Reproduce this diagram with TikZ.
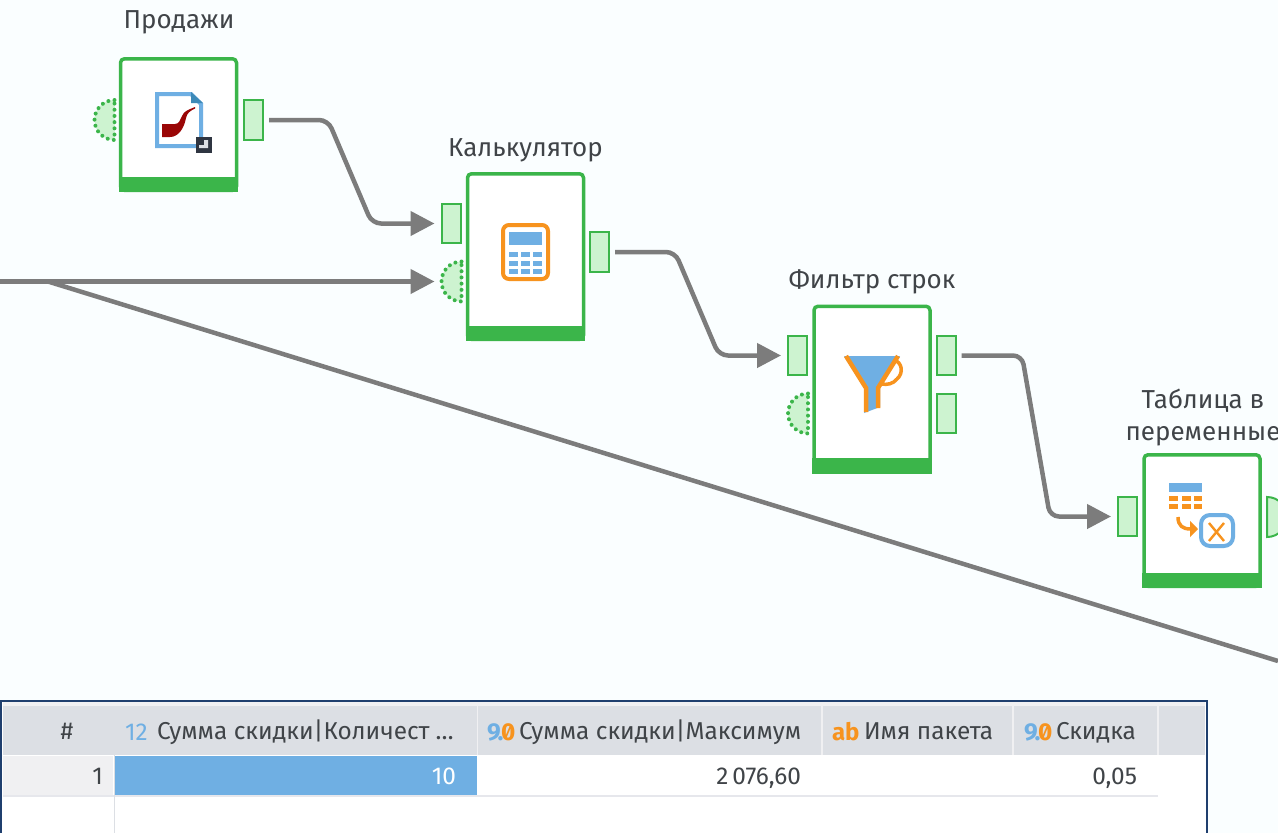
\documentclass[tikz,border=0pt]{standalone}
\usepackage{fontspec}
\setmainfont{Fira Sans}
\newfontfamily\zerofont[RawFeature=+zero]{Fira Sans}
\usetikzlibrary{arrows.meta,calc}
\definecolor{bgc}{HTML}{FAFEFF}
\definecolor{grn}{HTML}{3BB54A}
\definecolor{portf}{HTML}{CDF3D0}
\definecolor{wire}{HTML}{7C7C7C}
\definecolor{blu}{HTML}{6FAFE3}
\definecolor{dblu}{HTML}{3D8AB8}
\definecolor{org}{HTML}{F7931E}
\definecolor{pipe}{HTML}{9A0606}
\definecolor{darks}{HTML}{2F3541}
\definecolor{txt}{HTML}{404448}
\definecolor{frame}{HTML}{1F3F6E}
\definecolor{hdr}{HTML}{DCDFE4}
\definecolor{rowg}{HTML}{F0F0F2}
\definecolor{sepc}{HTML}{E6E7EC}
\newcommand\Bar[1]{\fill[grn] ([shift={(-1.75pt,-1.75pt)}]#1.south west) rectangle ([shift={(1.75pt,13.5pt)}]#1.south east);}
\newcommand\NineZero{{\zerofont\bfseries\color{blu}9\kern-3pt.\kern-2.5pt\color{org}0}}
\tikzset{
  x=1pt,y=-1pt,
  stepbox/.style={draw=grn,fill=white,line width=3.5pt,rounded corners=4pt,inner sep=0pt,outer sep=0pt,minimum width=116pt},
  portbox/.style={draw=grn,fill=portf,line width=2pt,inner sep=0pt,outer sep=0pt,minimum width=19pt,minimum height=39.5pt},
  halfport/.style={fill=portf},
  halfdots/.style={draw=grn,line width=4pt,line cap=round,dash pattern=on 0pt off 6.2pt},
  conn/.style={draw=wire,line width=4.5pt,rounded corners=9pt},
  connarrow/.style={conn,-{Triangle[length=24pt,width=24pt]}},
  steplabel/.style={font=\fontsize{26}{30}\selectfont,text=txt,inner sep=0pt,outer sep=0pt,anchor=base},
  tl/.style={font=\fontsize{24.4}{28}\selectfont,text=txt,inner sep=0pt,outer sep=0pt,anchor=base west},
  tr/.style={font=\fontsize{24.4}{28}\selectfont,text=txt,inner sep=0pt,outer sep=0pt,anchor=base east},
}
\newcommand\HalfPort[3]{% name, flat-side x, center y
  \coordinate (#1) at (#2-21,#3);
  \fill[halfport] (#2,#3-20) arc[start angle=90,end angle=270,radius=20pt] -- cycle;
  \draw[halfdots] (#2,#3-20) arc[start angle=90,end angle=270,radius=20pt] -- cycle;
}
\begin{document}
\begin{tikzpicture}
\useasboundingbox (0,0) rectangle (1278,833);
\clip (0,0) rectangle (1278,833);
\fill[bgc] (0,0) rectangle (1278,833);

% step boxes
\node[stepbox,minimum height=131.5pt] (s1) at (178.5,124.5) {};
\node[stepbox,minimum height=165.5pt] (s2) at (525.5,256.5) {};
\node[stepbox,minimum height=165.5pt] (s3) at (872,389) {};
\node[stepbox,minimum height=131.5pt] (s4) at (1202,520.5) {};
\Bar{s1}\Bar{s2}\Bar{s3}\Bar{s4}

% labels
\node[steplabel] (l1) at (179,28) {Продажи};
\node[steplabel] (l2) at (525.5,156) {Калькулятор};
\node[steplabel] (l3) at (872,288) {Фильтр строк};
\node[steplabel] (l4a) at (1203,408) {Таблица в};
\node[steplabel] (l4b) at (1203,440) {переменные};

% ports
\node[portbox] (o1) at (253.5,120) {};
\node[portbox] (i2) at (451,223.5) {};
\node[portbox] (o2) at (599.5,252) {};
\node[portbox] (i3) at (797.5,355.5) {};
\node[portbox] (o3) at (946,355.5) {};
\node[portbox] (o3b) at (946,413.5) {};
\node[portbox] (i4) at (1127.5,516.5) {};
\HalfPort{h1}{114.5}{120}
\HalfPort{h2}{461.5}{281.5}
\HalfPort{h3}{808}{413.5}
\fill[portf,draw=grn,line width=2pt] (1267,497) arc[start angle=90,end angle=-90,radius=20pt] -- cycle;
\coordinate (o4) at (1267,517);

% connectors
\coordinate (w0) at (0,281.5);
\coordinate (wb) at (48,281.5);
\coordinate (wend) at (1278,661);
\draw[connarrow] ([xshift=6pt]o1.east) -- (328,120) -- (372,223.5) -- ([xshift=-7pt]i2.west);
\draw[connarrow] ([xshift=6pt]o2.east) -- (675,252) -- (719,355.5) -- ([xshift=-7pt]i3.west);
\draw[connarrow] ([xshift=6pt]o3.east) -- (1022,355.5) -- (1050,516.5) -- ([xshift=-7pt]i4.west);
\draw[connarrow] (w0) -- ([xshift=-6pt]h2);
\draw[conn] (wb) -- (wend);

% icon 1: import file
\draw[blu,line width=4pt] (157,94) -- (191,94) -- (201,104) -- (201,146) -- (157,146) -- cycle;
\fill[dblu] (191,92) -- (203,103) -- (191,103) -- cycle;
\fill[pipe] (162,124) -- (175,124) .. controls (179,124) and (180,120) .. (182,116) .. controls (184,111) and (188,110) .. (195,107) -- (195,108.5) .. controls (190,111) and (187,113) .. (186,118) .. controls (184,129) and (178,137) .. (170,137) -- (162,137) -- cycle;
\fill[darks] (196,137) rectangle (212,153);
\fill[hdr] (199,148) -- (199,145) -- (204,145) -- (204,140) -- (208,140) -- (208,148) -- cycle;

% icon 2: calculator
\draw[org,line width=4pt,rounded corners=6pt,fill=white] (503,225) rectangle (548,279);
\fill[blu] (509,232) rectangle (542,244.5);
\foreach \ky in {252,261,269}{
  \foreach \kx/\kw in {509/8.5,521/9,533/9}{
    \fill[blu] (\kx,\ky) rectangle ++(\kw,4.5);
  }
}

% icon 3: filter
\fill[blu] (844,356) -- (900,356) -- (880,388) -- (880,407) -- (864,413) -- (864,388) -- cycle;
\draw[org,line width=4.5pt] (846,356) -- (866,388) -- (866,412);
\draw[org,line width=4.5pt] (898,356) -- (878,388) -- (878,408);
\draw[org,line width=3.5pt] (894,360) .. controls (902,362) and (904,373) .. (897,379) .. controls (893,384) and (887,385) .. (882,384);

% icon 4: table to variables
\fill[blu] (1169,483) rectangle (1202,492);
\foreach \dy in {496,504}{
  \foreach \dx/\dw in {1169/9,1182/8.5,1194/8}{
    \fill[org] (\dx,\dy) rectangle ++(\dw,4.5);
  }
}
\draw[org,line width=3.5pt,-{Triangle[length=8pt,width=16pt]}] (1178,517) .. controls (1178,526) and (1183,529) .. (1198,529);
\draw[blu,line width=4pt,rounded corners=9pt,fill=white] (1201,515) rectangle (1233,546);
\draw[org,line width=2.4pt] (1209,523) -- (1224,541) (1224,523) -- (1209,541);

% table
\fill[white] (1,700) rectangle (1207,833);
\fill[rowg] (3,702) rectangle (1205,706);
\fill[hdr] (3,706) rectangle (1205,755);
\fill[rowg] (3,756) rectangle (113,795);
\fill[blu] (115,756) rectangle (477,795);
\draw[sepc,line width=1.5pt] (3,796) -- (1158,796);
\draw[hdr,line width=1.5pt] (114.5,706) -- (114.5,833);
\draw[rowg,line width=1.5pt] (477.5,706) -- (477.5,755) (822,706) -- (822,755) (1013,706) -- (1013,755) (1158,706) -- (1158,755);
\draw[frame,line width=2pt] (1,833) -- (1,700.5) -- (1206.5,700.5) -- (1206.5,833);

\node[tl,anchor=base] (hn) at (67,739) {\#};
\node[tl,text=blu] (t1) at (125,740) {12};
\node[tl] (h1t) at (157,739) {Сумма скидки|Количест\kern6pt…};
\node[tl] (t2) at (487,740) {\NineZero};
\node[tl] (h2t) at (519,739) {Сумма скидки|Максимум};
\node[tl,text=org,font=\fontsize{24}{28}\selectfont\bfseries] (t3) at (832,740) {ab};
\node[tl] (h3t) at (864,739) {Имя пакета};
\node[tl] (t4) at (1024,740) {\NineZero};
\node[tl] (h4t) at (1056,739) {Скидка};
\node[tr] (r0) at (103,784) {1};
\node[tr,text=white] (r1) at (456,784) {10};
\node[tr] (r2) at (801,784) {2\,076,60};
\node[tr] (r4) at (1137,784) {0,05};
\end{tikzpicture}
\end{document}
